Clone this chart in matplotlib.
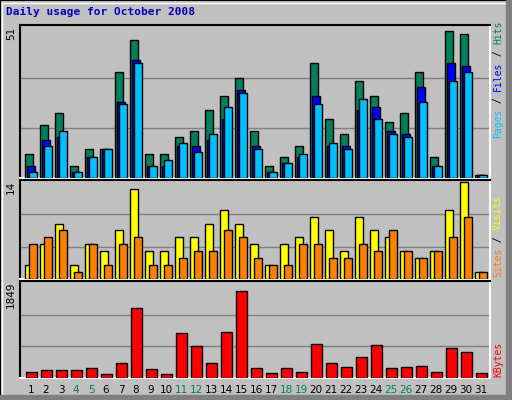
import numpy as np
import matplotlib.pyplot as plt
from matplotlib.patches import Rectangle

days = np.arange(1, 32)
hits = [8, 18, 22, 4, 10, 10, 36, 47, 8, 8, 14, 16, 23, 28, 34, 16,
        4, 7, 11, 39, 20, 15, 33, 28, 19, 22, 36, 7, 50, 49, 1]
files = [4, 13, 14, 2, 7, 10, 26, 40, 4, 4, 11, 11, 13, 20, 30, 11,
         2, 5, 7, 28, 11, 11, 23, 24, 16, 15, 31, 4, 39, 38, 1]
pages = [2, 11, 16, 2, 7, 10, 25, 39, 4, 6, 12, 9, 15, 24, 29, 10,
         2, 5, 8, 25, 12, 10, 27, 20, 15, 14, 26, 4, 33, 36, 1]
visits = [2, 5, 8, 2, 5, 4, 7, 13, 4, 4, 6, 6, 8, 10, 8, 5,
          2, 5, 6, 9, 7, 4, 9, 7, 6, 4, 3, 4, 10, 14, 1]
sites = [5, 6, 7, 1, 5, 2, 5, 6, 2, 2, 3, 4, 4, 7, 6, 3,
         2, 2, 5, 5, 3, 3, 5, 4, 7, 4, 3, 4, 6, 9, 1]
kbytes = [118, 155, 155, 155, 192, 80, 285, 1364, 174, 80, 880, 620, 285, 900, 1700, 192,
          100, 192, 118, 660, 285, 210, 400, 640, 192, 210, 230, 118, 585, 510, 100]
weekends = [4, 5, 11, 12, 18, 19, 25, 26]
max_hits, max_visits, max_kb = 51, 14, 1849

BG = '#C0C0C0'
C_HITS, C_FILES, C_PAGES = '#00805C', '#0000FF', '#00C0FF'
C_VISITS, C_SITES, C_KB = '#FFFF00', '#FF8000', '#FF0000'
MONO = 'DejaVu Sans Mono'

fig = plt.figure(figsize=(5.12, 4.0), dpi=100, facecolor=BG)
W, H = 512, 400

# outer frame
fig.patches.append(Rectangle((0, 0), 1, 1, transform=fig.transFigure, fill=False, ec='black', lw=1.5))
fig.patches.append(Rectangle((2/W, 2/H), 1-5/W, 1-5/H, transform=fig.transFigure, fill=False, ec='white', lw=1))
fig.patches.append(Rectangle((506/W, 0), 6/W, 1, transform=fig.transFigure, color='#808080'))
fig.patches.append(Rectangle((0, 0), 1, 5/H, transform=fig.transFigure, color='#808080'))

fig.text(6/W, 1-12/H, 'Daily usage for October 2008', color='#0000C0', family=MONO,
         fontweight='bold', fontsize=8, va='center')

px = 1/15
xl = (1 - 5*px, 1 - 5*px + 470/15)

def make_ax(top, bottom, maxv):
    ax = fig.add_axes([20/W, 1-bottom/H, 470/W, (bottom-top)/H])
    ax.set_facecolor(BG)
    ax.set_xlim(*xl)
    ax.set_ylim(0, maxv*1.02)
    for g in (maxv/3, 2*maxv/3):
        ax.axhline(g, color='#808080', lw=1, zorder=0)
    ax.set_xticks([]); ax.set_yticks([])
    for s in ax.spines.values():
        s.set_linewidth(1.5)
    ax.spines['right'].set_color('white'); ax.spines['bottom'].set_color('white')
    return ax

kw = dict(align='edge', edgecolor='black', linewidth=1, zorder=3)
ax1 = make_ax(25, 178, max_hits)
ax1.bar(days, hits, 8*px, color=C_HITS, **kw)
ax1.bar(days + 2*px, files, 8*px, color=C_FILES, **kw)
ax1.bar(days + 4*px, pages, 8*px, color=C_PAGES, **kw)

ax2 = make_ax(180, 279, max_visits)
ax2.bar(days, visits, 8*px, color=C_VISITS, **kw)
ax2.bar(days + 4*px, sites, 8*px, color=C_SITES, **kw)

ax3 = make_ax(281, 378, max_kb)
ax3.bar(days + 1*px, kbytes, 11*px, color=C_KB, **kw)

for d in days:
    ax3.text(d + 6*px, -0.12, str(d), transform=ax3.get_xaxis_transform(), ha='center', va='center',
             fontsize=7.5, color=C_HITS if d in weekends else 'black')

for ax, v in ((ax1, max_hits), (ax2, max_visits), (ax3, max_kb)):
    ax.text(-9/470, 0.99, str(v), transform=ax.transAxes, rotation=90, ha='center', va='top',
            fontsize=7.5, color='black')

def side_label(parts, y_bottom):
    adv = 5.85
    y = y_bottom
    for txt, col in parts:
        fig.text(498/W, 1-y/H, txt, rotation=90, ha='center', va='bottom', family=MONO,
                 fontsize=7, color=col)
        y -= adv*len(txt)

side_label([('Pages', C_PAGES), (' / ', 'black'), ('Files', C_FILES), (' / ', 'black'), ('Hits', C_HITS)], 138)
side_label([('Sites', C_SITES), (' / ', 'black'), ('Visits', C_VISITS)], 277)
side_label([('KBytes', C_KB)], 377)

fig.savefig('out.png', dpi=100, facecolor=BG)
